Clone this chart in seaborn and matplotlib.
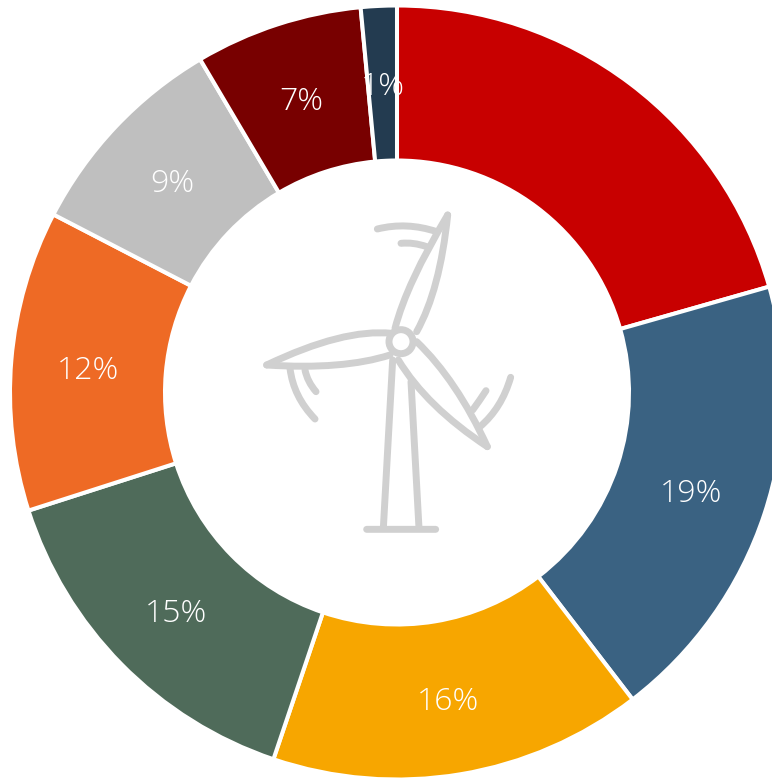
import matplotlib
matplotlib.use("Agg")
import matplotlib.pyplot as plt
import seaborn as sns
from matplotlib.patches import Circle, PathPatch
from matplotlib.path import Path

# slice shares, clockwise from 12 o'clock
shares = [20.6, 19.0, 15.6, 14.9, 12.55, 8.9, 7.0, 1.5]
pct_labels = ["", "19%", "16%", "15%", "12%", "9%", "7%", "1%"]
slice_colors = ["#C80000", "#3A6282", "#F7A600", "#4F6B5A", "#EE6A25",
                "#BFBFBF", "#780000", "#233B50"]

ICON_GREY = "#D0D0D0"

# turbine icon, (start, control, end) in zoomed crop coordinates
icon_curves = [
    ((435, 385), (470, 250), (593, 45)),
    ((500, 395), (570, 270), (593, 45)),
    ((425, 400), (280, 385), (50, 495)),
    ((420, 465), (280, 510), (50, 495)),
    ((500, 425), (620, 540), (712, 740)),
    ((445, 480), (530, 620), (712, 740)),
    ((428, 480), (414, 730), (400, 985)),
    ((483, 545), (495, 765), (507, 985)),
    ((350, 988), (450, 988), (557, 988)),
    ((382, 87), (470, 65), (560, 95)),
    ((453, 130), (490, 126), (530, 140)),
    ((120, 505), (130, 590), (195, 657)),
    ((165, 510), (172, 545), (198, 575)),
    ((782, 532), (755, 625), (690, 680)),
    ((708, 572), (690, 600), (668, 630)),
]


def to_plot(pt):
    # crop was 3x, taken at (250, 200); y runs downward in the picture
    return (250 + pt[0] / 3, 778 - (200 + pt[1] / 3))


def draw_icon(ax):
    for start, ctrl, end in icon_curves:
        path = Path([to_plot(start), to_plot(ctrl), to_plot(end)],
                    [Path.MOVETO, Path.CURVE3, Path.CURVE3])
        ax.add_patch(PathPatch(path, fill=False, edgecolor=ICON_GREY, lw=5,
                               capstyle="round", joinstyle="round"))
    ax.add_patch(Circle(to_plot((453, 425)), 12, facecolor="white",
                        edgecolor=ICON_GREY, lw=5, zorder=3))


sns.set_theme(style="white")
plt.rcParams["font.family"] = ["Open Sans", "DejaVu Sans"]

fig = plt.figure(figsize=(7.72, 7.78), dpi=100)
ax = fig.add_axes([0, 0, 1, 1])

labels_iter = iter(pct_labels)
wedges, _, autotexts = ax.pie(
    shares,
    colors=sns.color_palette(slice_colors),
    startangle=90,
    counterclock=False,
    center=(397, 385.5),
    radius=387,
    frame=True,
    autopct=lambda p: next(labels_iter),
    pctdistance=0.8,
    wedgeprops={"width": 155, "edgecolor": "white", "linewidth": 2.9},
    textprops={"color": "white", "fontsize": 23, "fontweight": "light"},
)

# labels sit a little lower than the pie puts them
for t in autotexts:
    t.set_y(t.get_position()[1] - 4)

draw_icon(ax)

ax.set_xlim(0, 772)
ax.set_ylim(0, 778)
ax.set_aspect("equal")
ax.axis("off")

fig.savefig("out.png", dpi=100, facecolor="white")
plt.close(fig)
